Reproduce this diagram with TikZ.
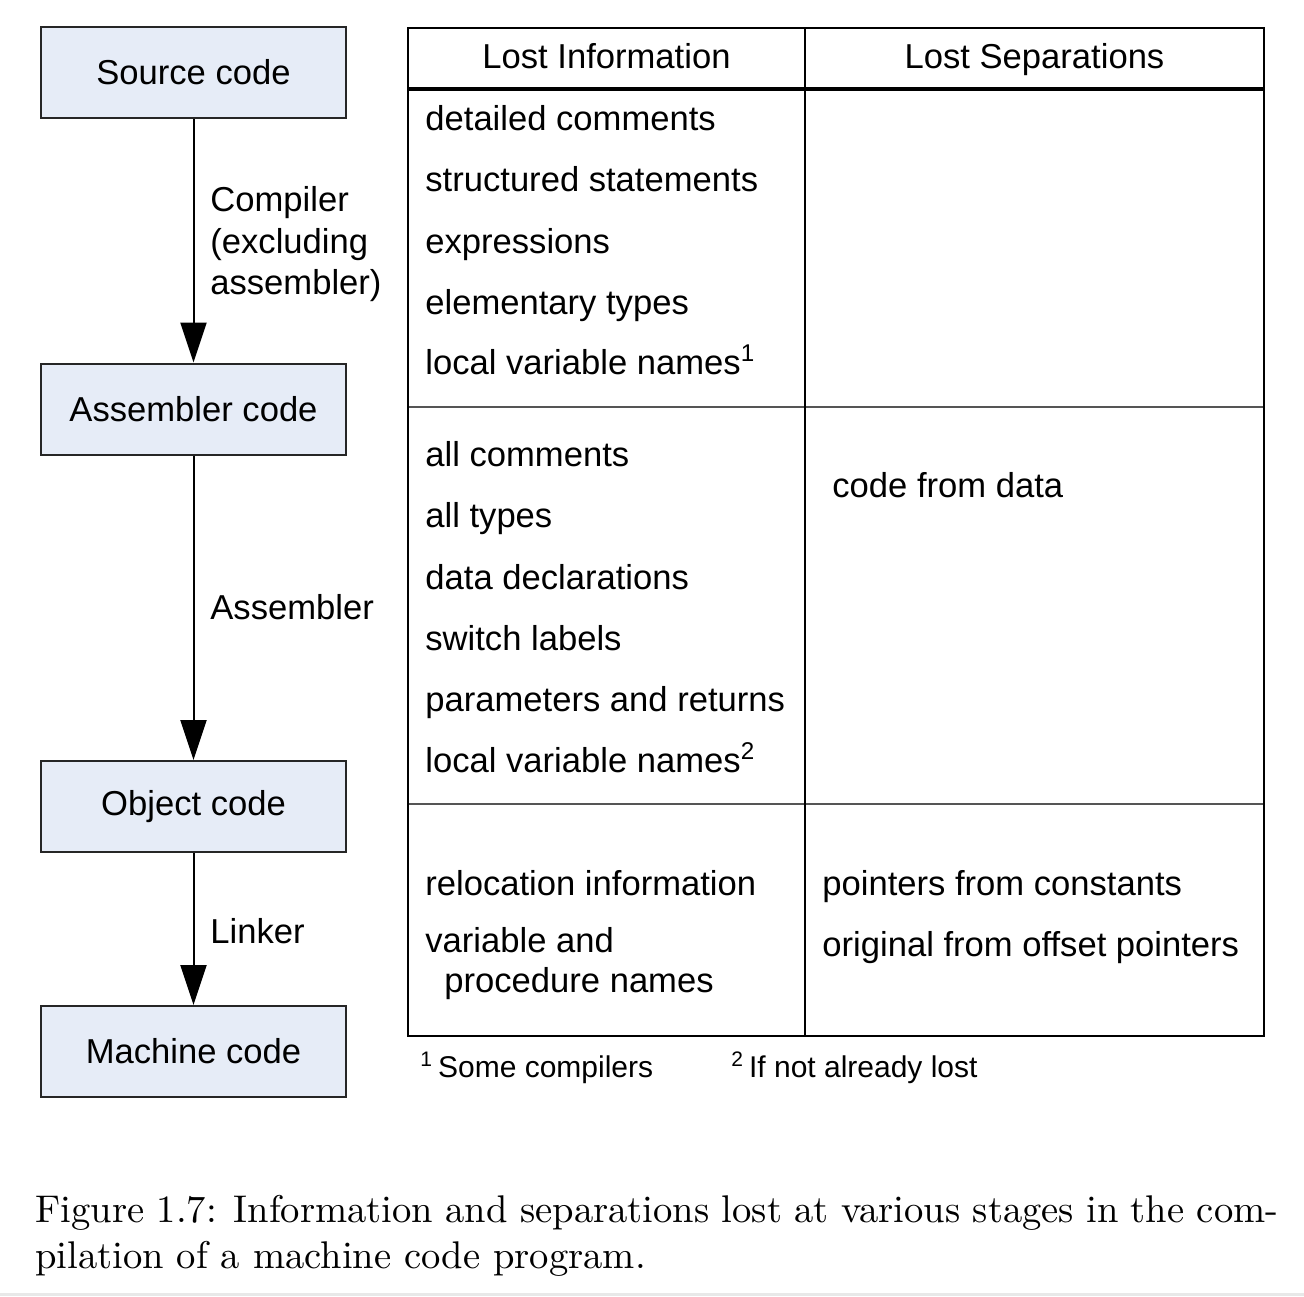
\documentclass[tikz,border=0pt]{standalone}
\usepackage{fontspec}
\setsansfont{Liberation Sans}
\newfontfamily\capfont{lmroman10-regular.otf}
\usetikzlibrary{arrows.meta}
\definecolor{boxfill}{HTML}{E6ECF7}
\definecolor{rowline}{HTML}{555555}
\tikzset{
  stage/.style={draw=black!85, line width=1pt, fill=boxfill, minimum width=152.5pt, minimum height=45.5pt, inner sep=0pt, font=\sffamily\fontsize{17.3}{20}\selectfont},
  flow/.style={line width=1pt, -{Triangle[length=20pt,width=13pt]}},
  lbl/.style={anchor=base west, inner sep=0pt, font=\sffamily\fontsize{17.3}{20}\selectfont},
  hdr/.style={anchor=base, inner sep=0pt, font=\sffamily\fontsize{17.3}{20}\selectfont},
  foot/.style={anchor=base west, inner sep=0pt, font=\sffamily\fontsize{15}{18}\selectfont},
}
\begin{document}
\begin{tikzpicture}[x=0.5pt,y=-0.5pt]
\useasboundingbox (0,0) rectangle (1304,1296);
\fill[white] (0,0) rectangle (1304,1296);
\fill[black!9] (0,1293) rectangle (1304,1296);
% stages
\node[stage] (src) at (193.5,72.5) {Source code};
\node[stage] (asm) at (193.5,409) {Assembler code};
\node[stage] (obj) at (193.5,806.5) {Object code};
\node[stage] (mac) at (193.5,1051.5) {Machine code};
\draw[flow] (src.south) -- (asm.north);
\draw[flow] (asm.south) -- (obj.north);
\draw[flow] (obj.south) -- (mac.north);
\node[lbl] (l1a) at (210,211) {Compiler};
\node[lbl] (l1b) at (210,253) {(excluding};
\node[lbl] (l1c) at (210,294) {assembler)};
\node[lbl] (l2) at (210,619) {Assembler};
\node[lbl] (l3) at (210,943) {Linker};
% table
\draw[rowline, line width=0.6pt] (408,407) -- (1264,407);
\draw[rowline, line width=0.6pt] (408,804) -- (1264,804);
\draw[line width=1pt] (408,28) rectangle (1264,1036);
\draw[line width=1pt] (805,28) -- (805,1036);
\draw[line width=2pt] (408,89) -- (1264,89);
\node[hdr] (h1) at (606.5,68) {Lost Information};
\node[hdr] (h2) at (1034.5,68) {Lost Separations};
\node[lbl] (a1) at (425,130) {detailed comments};
\node[lbl] (a2) at (425,191) {structured statements};
\node[lbl] (a3) at (425,253) {expressions};
\node[lbl] (a4) at (425,314) {elementary types};
\node[lbl] (a5) at (425,374) {local variable names\textsuperscript{1}};
\node[lbl] (b1) at (425,466) {all comments};
\node[lbl] (b2) at (425,527) {all types};
\node[lbl] (b3) at (425,589) {data declarations};
\node[lbl] (b4) at (425,650) {switch labels};
\node[lbl] (b5) at (425,711) {parameters and returns};
\node[lbl] (b6) at (425,772) {local variable names\textsuperscript{2}};
\node[lbl] (c1) at (425,895) {relocation information};
\node[lbl] (c2) at (425,952) {variable and};
\node[lbl] (c3) at (444,992) {procedure names};
\node[lbl] (s1) at (832,497) {code from data};
\node[lbl] (s2) at (822,895) {pointers from constants};
\node[lbl] (s3) at (822,956) {original from offset pointers};
\node[foot] (f1) at (420,1077) {\textsuperscript{1}\,Some compilers};
\node[foot] (f2) at (731,1077) {\textsuperscript{2}\,If not already lost};
% caption
\node[anchor=base west, inner sep=0pt, text width=621.5pt, align=justify, font=\capfont\fontsize{19.3}{23}\selectfont] (cap) at (35,1222)
 {Figure 1.7: Information and separations lost at various stages in the com-\linebreak pilation of a machine code program.};
\end{tikzpicture}
\end{document}
